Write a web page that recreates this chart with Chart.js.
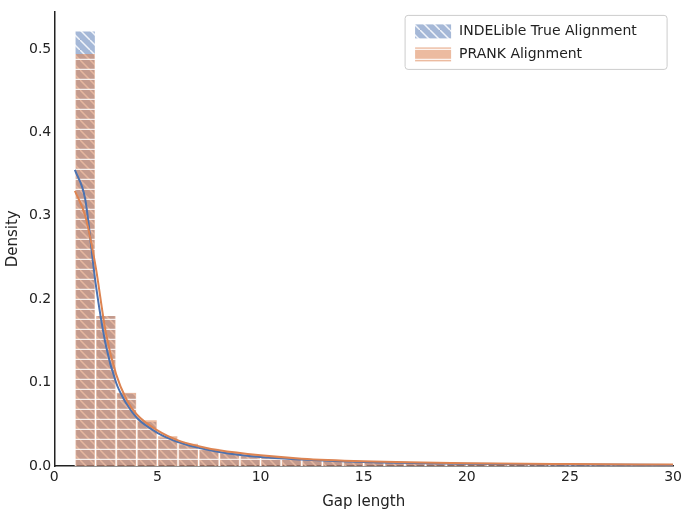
<!DOCTYPE html>
<html>
<head>
<script src="https://cdn.jsdelivr.net/npm/chart.js@4/dist/chart.umd.min.js"></script>
<style>body{margin:0;background:#fff}#wrap{width:685px;height:515px}</style>
</head>
<body>
<div id="wrap"><canvas id="chartGaps"></canvas></div>
<script>
// histogram bins (centre of each 1-wide bin from 1 to 30)
var binCentres = [1.5,2.5,3.5,4.5,5.5,6.5,7.5,8.5,9.5,10.5,11.5,12.5,13.5,14.5,15.5,16.5,17.5,18.5,19.5,20.5,21.5,22.5,23.5,24.5,25.5,26.5,27.5,28.5,29.5]
var trueDensity = [0.521,0.180,0.087,0.053,0.034,0.025,0.019,0.015,0.012,0.010,0.008,0.007,0.006,0.005,0.0045,0.004,0.0035,0.003,0.0028,0.0025,0.0022,0.002,0.0018,0.0016,0.0015,0.0014,0.0013,0.0012,0.001]
var prankDensity = [0.494,0.180,0.088,0.055,0.036,0.027,0.021,0.017,0.013,0.011,0.009,0.008,0.007,0.006,0.005,0.0045,0.004,0.0035,0.003,0.0028,0.0025,0.0022,0.002,0.0018,0.0016,0.0015,0.0014,0.0013,0.0012]
// kde curves
var kdeX = [1,1.5,2,2.5,3,3.5,4,5,6,7,8,10,12,15,20,25,30]
var trueKde = [0.355,0.32,0.22,0.145,0.10,0.075,0.058,0.04,0.029,0.022,0.017,0.011,0.008,0.005,0.003,0.002,0.0015]
var prankKde = [0.33,0.30,0.24,0.16,0.11,0.08,0.062,0.043,0.031,0.024,0.019,0.013,0.009,0.006,0.0035,0.0025,0.002]
var yTicks = [0, 0.1, 0.2, 0.3, 0.4, 0.5]

function hatch(base, kind) {
  var c = document.createElement('canvas')
  c.width = 20; c.height = 10
  var g = c.getContext('2d')
  g.fillStyle = base
  g.fillRect(0, 0, 20, 10)
  g.strokeStyle = 'rgba(255,255,255,0.85)'
  g.lineWidth = 1.5
  g.beginPath()
  if (kind == 'diag') {
    g.moveTo(0, 0); g.lineTo(10, 10)
    g.moveTo(10, 0); g.lineTo(20, 10)
  } else {
    g.moveTo(0, 9.5); g.lineTo(20, 9.5)
  }
  g.stroke()
  return document.getElementById('chartGaps').getContext('2d').createPattern(c, 'repeat')
}

var blueFill = hatch('rgba(76,114,176,0.5)', 'diag')
var orangeFill = hatch('rgba(221,132,82,0.55)', 'hline')

// legend drawn inside the plot, top right
var legendBox = {
  id: 'legendBox',
  afterDraw: function (chart) {
    var c = chart.ctx, a = chart.chartArea
    var items = [['INDELible True Alignment', blueFill], ['PRANK Alignment', orangeFill]]
    var x0 = a.right - 268, y0 = a.top + 4
    c.save()
    c.fillStyle = 'rgba(255,255,255,0.8)'
    c.strokeStyle = '#ccc'
    c.lineWidth = 1
    c.beginPath()
    c.roundRect(x0, y0, 262, 54, 3)
    c.fill(); c.stroke()
    c.font = '14px "DejaVu Sans"'
    c.textBaseline = 'middle'
    items.forEach(function (it, i) {
      var yy = y0 + 16 + i * 23
      c.fillStyle = it[1]
      c.fillRect(x0 + 10, yy - 7, 36, 14)
      c.fillStyle = '#222'
      c.fillText(it[0], x0 + 54, yy)
    })
    c.restore()
  },
}

var ctx = document.getElementById('chartGaps').getContext('2d')
Chart.defaults.font.family = 'DejaVu Sans'
Chart.defaults.font.size = 14
Chart.defaults.color = '#222'

var chart = new Chart(ctx, {
  type: 'bar',
  plugins: [legendBox],
  data: {
    datasets: [
      {
        label: 'INDELible True Alignment',
        data: binCentres.map(function (x, i) { return { x: x, y: trueDensity[i] } }),
        backgroundColor: blueFill,
        borderColor: 'rgba(255,255,255,0.8)',
        borderWidth: { left: 1, right: 1, top: 0, bottom: 0 },
        barPercentage: 1,
        categoryPercentage: 1,
        grouped: false,
        order: 3,
      },
      {
        label: 'PRANK Alignment',
        data: binCentres.map(function (x, i) { return { x: x, y: prankDensity[i] } }),
        backgroundColor: orangeFill,
        borderColor: 'rgba(255,255,255,0.8)',
        borderWidth: { left: 1, right: 1, top: 0, bottom: 0 },
        barPercentage: 1,
        categoryPercentage: 1,
        grouped: false,
        order: 2,
      },
      {
        type: 'line',
        label: 'kde true',
        data: kdeX.map(function (x, i) { return { x: x, y: trueKde[i] } }),
        borderColor: '#4c72b0',
        borderWidth: 2,
        pointRadius: 0,
        cubicInterpolationMode: 'monotone',
        order: 1,
      },
      {
        type: 'line',
        label: 'kde prank',
        data: kdeX.map(function (x, i) { return { x: x, y: prankKde[i] } }),
        borderColor: '#dd8452',
        borderWidth: 2,
        pointRadius: 0,
        cubicInterpolationMode: 'monotone',
        order: 0,
      },
    ],
  },
  options: {
    responsive: true,
    maintainAspectRatio: false,
    animation: false,
    layout: { padding: { top: 4, right: 5, left: 0, bottom: 0 } },
    plugins: {
      tooltip: { enabled: false },
      legend: { display: false },
    },
    scales: {
      x: {
        type: 'linear',
        offset: false,
        min: 0,
        max: 30,
        ticks: { stepSize: 5 },
        grid: { display: false, drawTicks: false },
        border: { color: '#222', width: 1.5 },
        title: { display: true, text: 'Gap length', font: { size: 15 } },
      },
      y: {
        min: 0,
        max: 0.545,
        afterBuildTicks: function (axis) { axis.ticks = yTicks.map(function (v) { return { value: v } }) },
        ticks: { callback: function (v) { return v.toFixed(1) } },
        grid: { display: false, drawTicks: false },
        border: { color: '#222', width: 1.5 },
        title: { display: true, text: 'Density', font: { size: 15 } },
      },
    },
  },
})
</script>
</body>
</html>
